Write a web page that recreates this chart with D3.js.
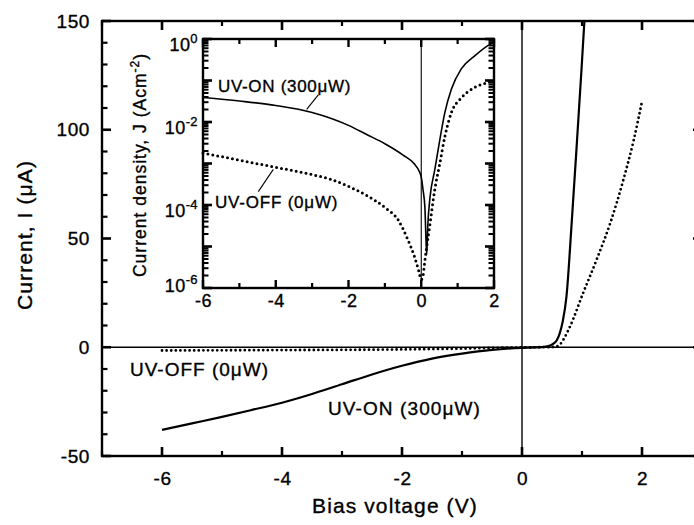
<!DOCTYPE html>
<html><head><meta charset="utf-8">
<script src="https://cdn.jsdelivr.net/npm/d3@7/dist/d3.min.js"></script>
<style>
html,body{margin:0;padding:0;background:#fff;}
svg{display:block;}
text{font-family:'Liberation Sans',Arial,Helvetica,sans-serif;fill:#000;stroke:#000;stroke-width:0.35px;}
</style></head>
<body>
<svg id="c" width="694" height="525"></svg>
<script>
// ---------- DATA ----------
// Main plot: bias voltage (V) vs current (µA)
const mainOnV = [-6,-5.5,-5,-4.5,-4,-3.5,-3,-2.5,-2,-1.5,-1,-0.5,0,0.2,0.4,0.5,0.58,0.63,0.68,0.74,0.83,0.91,0.99,1.04];
const mainOnI = [-38,-35,-32,-28.8,-25.5,-21.5,-17,-12.5,-8.5,-5.2,-2.9,-1.2,-0.3,-0.1,0.3,1.2,3.2,6.5,12,23,58,92,127,150];
const mainOffV = [-6,-5,-4,-3,-2,-1,-0.5,0,0.3,0.5,0.58,0.63,0.7,0.8,1.02,1.24,1.47,1.69,1.86,2.0];
const mainOffI = [-1.5,-1.4,-1.3,-1.2,-1.0,-0.6,-0.3,-0.1,0,0.1,0.4,1.2,4,9.5,25,40,57,77,95,113];
// Inset: bias voltage (V) vs current density J (A cm^-2), log scale
const insetOnV = [-6,-5,-4,-3,-2,-1.5,-1,-0.5,-0.2,-0.05,0,0.05,0.1,0.15,0.18,0.24,0.37,0.51,0.65,0.83,1.1,1.47,1.83,2.0];
const insetOnJ = [3.9e-2,3.2e-2,2.5e-2,1.7e-2,8.3e-3,5.0e-3,3.0e-3,1.6e-3,1.0e-3,6.3e-4,4.7e-4,2.3e-4,8.9e-5,6.3e-6,3.2e-5,1.5e-4,6.9e-4,3.7e-3,1.7e-2,6.2e-2,0.19,0.39,0.69,0.83];
const insetOffV = [-6,-5,-4,-3,-2.5,-2,-1.5,-1,-0.63,-0.36,-0.18,-0.07,0,0.05,0.1,0.24,0.37,0.51,0.65,0.83,1.1,1.47,1.83,2.0];
const insetOffJ = [1.8e-3,1.2e-3,8.1e-4,5.4e-4,4.2e-4,2.8e-4,1.7e-4,8.7e-5,4.3e-5,1.4e-5,5.5e-6,2.6e-6,1.6e-6,2.0e-6,4.6e-6,3.5e-5,2.3e-4,1.0e-3,4.5e-3,1.7e-2,3.8e-2,6.8e-2,8.9e-2,0.1];
// Ticks
const mainXMajor = [-6,-4,-2,0,2];
const mainXMinor = [-7,-5,-3,-1,1,3];
const mainYMajor = [-50,0,50,100,150];
const mainYMinor = [-40,-30,-20,-10,10,20,30,40,60,70,80,90,110,120,130,140];
const insetXMajor = [-6,-4,-2,0,2];
const insetXMinor = [-5,-3,-1,1];
const insetDecades = [-6,-5,-4,-3,-2,-1,0];
const insetLabelDecades = [0,-2,-4,-6];
// Labels
const xTitle = "Bias voltage (V)";
const yTitle = "Current, I (\u03bcA)";
const insetYTitle = "Current density, J (Acm";
const insetYTitleSup = "-2";
const labelOn = "UV-ON (300\u03bcW)";
const labelOff = "UV-OFF (0\u03bcW)";

// ---------- SCALES ----------
const svg = d3.select("#c");
const x = d3.scaleLinear().domain([-7,3]).range([102,702]);
const y = d3.scaleLinear().domain([-50,150]).range([456,21]);
const xi = d3.scaleLinear().domain([-6,2]).range([203,494]);
const yi = d3.scaleLog().domain([1e-6,1]).range([288,39]);
const fmt = v => String(v).replace("\u2212","-");

// inward tick drawer (uses the scales)
function ticks(g, vals, scale, orient, pos, len, w){
  g.selectAll(null).data(vals).enter().append("line")
    .attr("stroke","#000").attr("stroke-width",w)
    .each(function(v){
      const p = scale(v), s = d3.select(this);
      if(orient==="bottom") s.attr("x1",p).attr("x2",p).attr("y1",pos).attr("y2",pos-len);
      if(orient==="top")    s.attr("x1",p).attr("x2",p).attr("y1",pos).attr("y2",pos+len);
      if(orient==="left")   s.attr("y1",p).attr("y2",p).attr("x1",pos).attr("x2",pos+len);
      if(orient==="right")  s.attr("y1",p).attr("y2",p).attr("x1",pos).attr("x2",pos-len);
    });
}
function frame(g, sx, sy, w){
  const [x0,x1] = sx.range(), [y0,y1] = sy.range();
  g.append("rect").attr("x",x0).attr("y",Math.min(y0,y1)).attr("width",x1-x0).attr("height",Math.abs(y0-y1))
    .attr("fill","none").attr("stroke","#000").attr("stroke-width",w);
}

svg.append("defs").append("clipPath").attr("id","mclip")
  .append("rect").attr("x",x(-7)).attr("y",y(150)).attr("width",x(3)-x(-7)).attr("height",y(-50)-y(150));

// zero lines
svg.append("line").attr("x1",x(-7)).attr("x2",x(3)).attr("y1",y(0)).attr("y2",y(0))
  .attr("stroke","#000").attr("stroke-width",1.4);
svg.append("line").attr("x1",x(0)).attr("x2",x(0)).attr("y1",y(150)).attr("y2",y(-50))
  .attr("stroke","#000").attr("stroke-width",1.4);

// main axes: labels via d3.axis, ticks drawn inward
const gB = svg.append("g").attr("transform",`translate(0,${y(-50)})`)
  .call(d3.axisBottom(x).tickValues(mainXMajor).tickSize(0).tickSizeOuter(0).tickPadding(15.5).tickFormat(fmt));
gB.select(".domain").remove();
gB.selectAll("text").style("font-size","19px").style("letter-spacing","0.6px");
const gL = svg.append("g").attr("transform",`translate(${x(-7)},0)`)
  .call(d3.axisLeft(y).tickValues(mainYMajor).tickSize(0).tickSizeOuter(0).tickPadding(12).tickFormat(fmt));
gL.select(".domain").remove();
gL.selectAll("text").style("font-size","19px").style("letter-spacing","0.6px");

const tg = svg.append("g");
ticks(tg, mainXMajor, x, "bottom", y(-50), 9, 2.6);
ticks(tg, mainXMinor, x, "bottom", y(-50), 5, 2.2);
ticks(tg, mainXMajor, x, "top", y(150), 9, 2.6);
ticks(tg, mainXMinor, x, "top", y(150), 5, 2.2);
ticks(tg, mainYMajor, y, "left", x(-7), 9, 2.6);
ticks(tg, mainYMinor, y, "left", x(-7), 5.5, 2.2);
ticks(tg, mainYMajor, y, "right", x(3), 9, 2.6);
frame(svg, x, y, 2.4);

// main curves
const lineMain = d3.line().x(d=>x(d[0])).y(d=>y(d[1])).curve(d3.curveMonotoneX);
const mainG = svg.append("g").attr("clip-path","url(#mclip)");
mainG.append("path").datum(d3.zip(mainOffV, mainOffI)).attr("d",lineMain)
  .attr("fill","none").attr("stroke","#000").attr("stroke-width",2.8)
  .attr("stroke-linecap","round").attr("stroke-dasharray","0 4.6");
mainG.append("path").datum(d3.zip(mainOnV, mainOnI)).attr("d",lineMain)
  .attr("fill","none").attr("stroke","#000").attr("stroke-width",2.2);

// main annotations
svg.append("text").attr("x",x(-6.533)).attr("y",y(-13.2)).text(labelOff)
  .style("font-size","19px").style("letter-spacing","1px");
svg.append("text").attr("x",x(-3.233)).attr("y",y(-31.3)).text(labelOn)
  .style("font-size","19px").style("letter-spacing","1.1px");

// titles
svg.append("text").attr("x",(x(-7)+x(3))/2-7).attr("y",513).attr("text-anchor","middle")
  .text(xTitle).style("font-size","21px").style("letter-spacing","1.1px");
svg.append("text").attr("transform","translate(32,235) rotate(-90)").attr("text-anchor","middle")
  .text(yTitle).style("font-size","21px").style("letter-spacing","1.1px");

// ---------- INSET ----------
const ig = svg.append("g");
ig.append("rect").attr("x",xi(-6)).attr("y",yi(1)).attr("width",xi(2)-xi(-6)).attr("height",yi(1e-6)-yi(1))
  .attr("fill","#fff").attr("stroke","none");
ig.append("line").attr("x1",xi(0)).attr("x2",xi(0)).attr("y1",yi(1)).attr("y2",yi(1e-6))
  .attr("stroke","#000").attr("stroke-width",1.1);

const minorLog = [];
insetDecades.forEach(dd=>{ if(dd<0){ for(let m=2;m<=9;m++) minorLog.push(m*Math.pow(10,dd)); } });
const majorLog = insetDecades.map(dd=>Math.pow(10,dd));

// inset curves
const lineInset = d3.line().x(d=>xi(d[0])).y(d=>yi(d[1])).curve(d3.curveMonotoneX);
ig.append("path").datum(d3.zip(insetOffV, insetOffJ)).attr("d",lineInset)
  .attr("fill","none").attr("stroke","#000").attr("stroke-width",3)
  .attr("stroke-linecap","round").attr("stroke-dasharray","0 5");
ig.append("path").datum(d3.zip(insetOnV, insetOnJ)).attr("d",lineInset)
  .attr("fill","none").attr("stroke","#000").attr("stroke-width",1.6);

// inset axes
const gBi = ig.append("g").attr("transform",`translate(0,${yi(1e-6)})`)
  .call(d3.axisBottom(xi).tickValues(insetXMajor).tickSize(0).tickSizeOuter(0).tickPadding(6).tickFormat(fmt));
gBi.select(".domain").remove();
gBi.selectAll("text").style("font-size","18px").style("letter-spacing","0.6px");
const itg = ig.append("g");
ticks(itg, insetXMajor, xi, "bottom", yi(1e-6), 8, 2.4);
ticks(itg, insetXMinor, xi, "bottom", yi(1e-6), 5, 2.2);
ticks(itg, insetXMajor, xi, "top", yi(1), 8, 2.4);
ticks(itg, insetXMinor, xi, "top", yi(1), 5, 2.2);
ticks(itg, majorLog, yi, "left", xi(-6), 9, 2.6);
ticks(itg, minorLog, yi, "left", xi(-6), 5.5, 2);
ticks(itg, majorLog, yi, "right", xi(2), 9, 2.6);
ticks(itg, minorLog, yi, "right", xi(2), 5.5, 2);
frame(ig, xi, yi, 2.4);

// inset y tick labels with superscripts
insetLabelDecades.forEach(dd=>{
  const off = dd===-6 ? 4 : 11.5;
  const t = ig.append("text").attr("x",xi(-6)-5).attr("y",yi(Math.pow(10,dd))+off)
    .attr("text-anchor","end").style("font-size","18px").style("letter-spacing","0.4px");
  t.append("tspan").text("10");
  t.append("tspan").attr("dy",-8).style("font-size","13px").text(String(dd));
});

// inset y title
const it = ig.append("text").attr("transform","translate(146,165) rotate(-90)").attr("text-anchor","middle")
  .style("font-size","17.5px").style("letter-spacing","1px");
it.append("tspan").text(insetYTitle);
it.append("tspan").attr("dy",-7).style("font-size","12px").text(insetYTitleSup);
it.append("tspan").attr("dy",7).text(")");

// inset annotations + pointers
ig.append("text").attr("x",xi(-5.59)).attr("y",yi(0.052)).text(labelOn)
  .style("font-size","17px").style("letter-spacing","0.7px");
ig.append("text").attr("x",xi(-5.67)).attr("y",yi(8.5e-5)).text(labelOff)
  .style("font-size","17px").style("letter-spacing","0.8px");
ig.append("line").attr("x1",xi(-2.83)).attr("y1",yi(0.045)).attr("x2",xi(-3.15)).attr("y2",yi(0.0202))
  .attr("stroke","#000").attr("stroke-width",1.1);
ig.append("line").attr("x1",xi(-4.067)).attr("y1",yi(7.2e-4)).attr("x2",xi(-4.48)).attr("y2",yi(2.1e-4))
  .attr("stroke","#000").attr("stroke-width",1.1);
</script>
</body></html>
